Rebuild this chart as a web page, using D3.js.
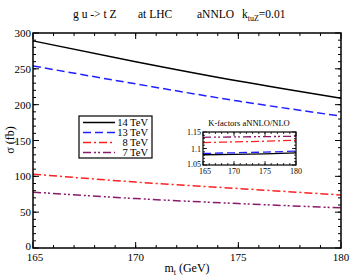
<!DOCTYPE html>
<html>
<head>
<meta charset="utf-8">
<script src="https://cdn.jsdelivr.net/npm/d3@7"></script>
<style>
  body { margin: 0; background: #fff; }
  text { font-family: "Liberation Serif", "DejaVu Serif", serif; }
</style>
</head>
<body>
<svg id="chart" width="350" height="277"></svg>
<script>
// top mass points (GeV)
const masses = [165, 170, 175, 180];
// cross sections in fb
const sigma14 = [289, 260, 233, 209];
const sigma13 = [254, 229, 205, 184];
const sigma8 = [103, 92, 83, 74];
const sigma7 = [78, 69, 62, 56];
// K-factors aNNLO/NLO for the inset
const kfac14 = [1.081, 1.082, 1.084, 1.087];
const kfac13 = [1.085, 1.087, 1.089, 1.092];
const kfac8 = [1.118, 1.120, 1.122, 1.125];
const kfac7 = [1.134, 1.135, 1.136, 1.137];
const seriesNames = ['14 TeV', '13 TeV', '8 TeV', '7 TeV'];
const xTicks = [165, 170, 175, 180];
const yTicks = [0, 50, 100, 150, 200, 250, 300];
const insetYTicks = [1.05, 1.1, 1.15];

const styles = [
    {color: '#000000', dash: null},
    {color: '#2020ff', dash: '8,4'},
    {color: '#ff2020', dash: '8,3,2,3'},
    {color: '#8b1a6b', dash: '8,3,2,2,2,3'}
];

const svg = d3.select('#chart');

const x = d3.scaleLinear().domain([165, 180]).range([33, 341]);
const y = d3.scaleLinear().domain([0, 300]).range([248, 33]);

const main = svg.append('g');

// main curves
const allSigma = [sigma14, sigma13, sigma8, sigma7];
const line = d3.line().x((d, i) => x(masses[i])).y(d => y(d)).curve(d3.curveMonotoneX);
allSigma.forEach((s, k) => {
    main.append('path').datum(s).attr('d', line)
        .attr('fill', 'none').attr('stroke', styles[k].color)
        .attr('stroke-width', 1.5)
        .attr('stroke-dasharray', styles[k].dash);
});

// ticks on all four sides, pointing inward
const xMinor = d3.range(166, 180, 1);
const yMinor = d3.range(10, 300, 10);
const tg = main.append('g');
{
    const [x0, x1] = x.range(), [y0, y1] = y.range();
    const tick = (a, b, c, d) => tg.append('line').attr('x1', a).attr('y1', b).attr('x2', c).attr('y2', d).attr('stroke', '#000');
    xMinor.forEach(v => { tick(x(v), y0, x(v), y0 - 3); tick(x(v), y1, x(v), y1 + 3); });
    xTicks.forEach(v => { tick(x(v), y0, x(v), y0 - 6); tick(x(v), y1, x(v), y1 + 6); });
    yMinor.forEach(v => { tick(x0, y(v), x0 + 3, y(v)); tick(x1, y(v), x1 - 3, y(v)); });
    yTicks.forEach(v => { tick(x0, y(v), x0 + 6, y(v)); tick(x1, y(v), x1 - 6, y(v)); });
}

main.append('rect').attr('x', 33).attr('y', 33).attr('width', 308).attr('height', 215)
    .attr('fill', 'none').attr('stroke', '#000').attr('stroke-width', 1.5);

// tick labels
main.selectAll('.xl').data(xTicks).join('text')
    .attr('x', (d, i) => x(d) + (i === 0 ? 2 : 0)).attr('y', 261).attr('text-anchor', 'middle')
    .attr('font-size', 11).text(d => d);
main.selectAll('.yl').data(yTicks).join('text')
    .attr('x', 31).attr('y', d => y(d) + (d === 0 ? 2 : 4)).attr('text-anchor', 'end')
    .attr('font-size', 11).text(d => d);

// axis titles
const xt = svg.append('text').attr('x', 187).attr('y', 272).attr('text-anchor', 'middle').attr('font-size', 12);
xt.append('tspan').text('m');
xt.append('tspan').attr('font-size', 8).attr('dy', 3).text('t');
xt.append('tspan').attr('dy', -3).text(' (GeV)');

svg.append('text').attr('transform', 'translate(14,140) rotate(-90)')
    .attr('text-anchor', 'middle').attr('font-size', 12).text('\u03c3  (fb)');

// title
const tt = svg.append('text').attr('y', 18).attr('font-size', 11.5);
tt.append('tspan').attr('x', 73).text('g u -> t Z');
tt.append('tspan').attr('x', 138).text('at  LHC');
tt.append('tspan').attr('x', 197).text('aNNLO');
tt.append('tspan').attr('x', 242).text('k');
tt.append('tspan').attr('font-size', 8).attr('dy', 3).text('tuZ');
tt.append('tspan').attr('dy', -3).text('=0.01');

// legend
const lg = svg.append('g');
lg.append('rect').attr('x', 79).attr('y', 116).attr('width', 73).attr('height', 42)
    .attr('fill', '#fff').attr('stroke', '#000').attr('stroke-width', 1.2);
seriesNames.forEach((n, k) => {
    const ly = 122.5 + k * 10;
    lg.append('line').attr('x1', 83).attr('x2', 115).attr('y1', ly).attr('y2', ly)
        .attr('stroke', styles[k].color).attr('stroke-width', 1.5)
        .attr('stroke-dasharray', styles[k].dash);
    lg.append('text').attr('x', 148).attr('y', ly + 3.5).attr('text-anchor', 'end')
        .attr('font-size', 10.5).text(n);
});

// inset
const ix = d3.scaleLinear().domain([165, 180]).range([203, 296]);
const iy = d3.scaleLinear().domain([1.05, 1.15]).range([165, 132]);
const ins = svg.append('g');
const allK = [kfac14, kfac13, kfac8, kfac7];
const iline = d3.line().x((d, i) => ix(masses[i])).y(d => iy(d));
allK.forEach((s, k) => {
    ins.append('path').datum(s).attr('d', iline)
        .attr('fill', 'none').attr('stroke', styles[k].color)
        .attr('stroke-width', 1.3)
        .attr('stroke-dasharray', styles[k].dash);
});
{
    const [x0, x1] = ix.range(), [y0, y1] = iy.range();
    const tick = (a, b, c, d) => ins.append('line').attr('x1', a).attr('y1', b).attr('x2', c).attr('y2', d).attr('stroke', '#000').attr('stroke-width', 0.8);
    d3.range(166, 180, 1).forEach(v => { tick(ix(v), y0, ix(v), y0 - 2); tick(ix(v), y1, ix(v), y1 + 2); });
    xTicks.forEach(v => { tick(ix(v), y0, ix(v), y0 - 4); tick(ix(v), y1, ix(v), y1 + 4); });
    d3.range(1.06, 1.15, 0.01).forEach(v => { tick(x0, iy(v), x0 + 2, iy(v)); tick(x1, iy(v), x1 - 2, iy(v)); });
    insetYTicks.forEach(v => { tick(x0, iy(v), x0 + 4, iy(v)); tick(x1, iy(v), x1 - 4, iy(v)); });
}
ins.append('rect').attr('x', 203).attr('y', 132).attr('width', 93).attr('height', 33)
    .attr('fill', 'none').attr('stroke', '#000').attr('stroke-width', 1.2);
ins.selectAll('.ixl').data(xTicks).join('text')
    .attr('x', (d, i) => ix(d) + (i === 0 ? 2 : 0)).attr('y', 174).attr('text-anchor', 'middle')
    .attr('font-size', 8).text(d => d);
ins.selectAll('.iyl').data(insetYTicks).join('text')
    .attr('x', 201).attr('y', (d, i) => iy(d) + (i === 0 ? 1.5 : 3)).attr('text-anchor', 'end')
    .attr('font-size', 8).text(d => d);
ins.append('text').attr('x', 249).attr('y', 126).attr('text-anchor', 'middle')
    .attr('font-size', 8.5).text('K-factors  aNNLO/NLO');
</script>
</body>
</html>
